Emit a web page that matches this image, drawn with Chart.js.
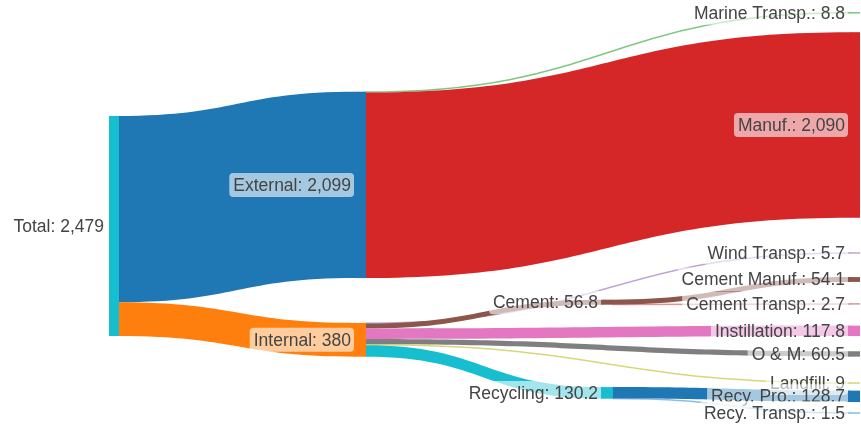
<!DOCTYPE html>
<html><head><meta charset="utf-8">
<script src="https://cdn.jsdelivr.net/npm/chart.js@4.4.0/dist/chart.umd.min.js"></script>
<style>html,body{margin:0;padding:0;background:#fff;}#wrap{width:861px;height:428px;position:relative;}</style>
</head><body><div id="wrap"><canvas id="c"></canvas></div>
<script>
// ---- data ----
const nodeLabels = ['Total','External','Internal','Marine Transp.','Manuf.','Wind Transp.','Cement',
  'Cement Manuf.','Cement Transp.','Instillation','O & M','Landfill','Recycling','Recy. Pro.','Recy. Transp.'];
const linkSource = [0, 0, 1, 1, 2, 2, 2, 2, 2, 2, 6, 6, 12, 12];
const linkTarget = [1, 2, 3, 4, 5, 6, 9, 10, 11, 12, 7, 8, 13, 14];
const linkValue  = [2099, 380, 8.8, 2090, 5.7, 56.8, 117.8, 60.5, 9, 130.2, 54.1, 2.7, 128.7, 1.5];

// ---- layout & style (not data) ----
const nodeColumn = [0, 1, 1, 3, 3, 3, 2, 3, 3, 3, 3, 3, 2, 3, 3];
const nodeCenterFrac = [0.528, 0.432, 0.794, 0.030, 0.292, 0.591, 0.706, 0.653, 0.710, 0.773, 0.827, 0.895, 0.918, 0.926, 0.965];
const nodeColors = ['#17becf','#1f77b4','#ff7f0e','#2ca02c','#d62728','#9467bd','#8c564b',
  '#8c564b','#b5574f','#e377c2','#7f7f7f','#bcbd22','#17becf','#1f77b4','#3d8fd0'];
const layoutCfg = { xMin: -0.4413, xMax: 3.0445, yMax: 4820, nodeWidth: 0.0405 };

const fmt = new Intl.NumberFormat('en-US', { maximumFractionDigits: 1 });

function computeNodes() {
  const n = nodeLabels.length;
  const inSum = new Array(n).fill(0), outSum = new Array(n).fill(0);
  linkValue.forEach((v, i) => { outSum[linkSource[i]] += v; inSum[linkTarget[i]] += v; });
  return nodeLabels.map((lab, i) => {
    const value = Math.max(inSum[i], outSum[i]);
    const center = nodeCenterFrac[i] * layoutCfg.yMax;
    return { label: lab, value, col: nodeColumn[i], top: center - value / 2, center, color: nodeColors[i] };
  });
}

function hexA(hex, a) {
  const r = parseInt(hex.slice(1,3),16), g = parseInt(hex.slice(3,5),16), b = parseInt(hex.slice(5,7),16);
  return `rgba(${r},${g},${b},${a})`;
}

const sankeyPlugin = {
  id: 'sankeyDraw',
  afterDatasetsDraw(chart) {
    const ctx = chart.ctx, xs = chart.scales.x, ys = chart.scales.y;
    const nodes = computeNodes();
    const links = linkValue.map((v, i) => ({ s: linkSource[i], t: linkTarget[i], v, i }));
    nodes.forEach((nd, i) => {
      let o = 0;
      links.filter(l => l.s === i).sort((a, b) => nodes[a.t].center - nodes[b.t].center)
        .forEach(l => { l.y0 = nd.top + o; o += l.v; });
      let q = 0;
      links.filter(l => l.t === i).sort((a, b) => nodes[a.s].center - nodes[b.s].center)
        .forEach(l => { l.y1 = nd.top + q; q += l.v; });
    });
    ctx.save();
    // links
    links.forEach(l => {
      const x0 = xs.getPixelForValue(nodes[l.s].col + layoutCfg.nodeWidth);
      const x1 = xs.getPixelForValue(nodes[l.t].col);
      const xm = (x0 + x1) / 2;
      const a0 = ys.getPixelForValue(l.y0), b0 = ys.getPixelForValue(l.y0 + l.v);
      const a1 = ys.getPixelForValue(l.y1), b1 = ys.getPixelForValue(l.y1 + l.v);
      const col = nodeColors[l.t];
      const h = b0 - a0;
      if (h < 1.5) {
        const c0 = (a0 + b0) / 2, c1 = (a1 + b1) / 2;
        ctx.beginPath();
        ctx.moveTo(x0 - 0.5, c0);
        ctx.bezierCurveTo(xm, c0, xm, c1, x1 + 0.5, c1);
        ctx.strokeStyle = hexA(col, 0.6);
        ctx.lineWidth = 1.5;
        ctx.stroke();
      } else {
        ctx.beginPath();
        ctx.moveTo(x0 - 0.5, a0);
        ctx.bezierCurveTo(xm, a0, xm, a1, x1 + 0.5, a1);
        ctx.lineTo(x1 + 0.5, b1);
        ctx.bezierCurveTo(xm, b1, xm, b0, x0 - 0.5, b0);
        ctx.closePath();
        ctx.fillStyle = col;
        ctx.fill();
      }
    });
    // nodes
    nodes.forEach(nd => {
      const xl = xs.getPixelForValue(nd.col), xr = xs.getPixelForValue(nd.col + layoutCfg.nodeWidth);
      const yt = ys.getPixelForValue(nd.top), yb = ys.getPixelForValue(nd.top + nd.value);
      ctx.fillStyle = nd.color;
      if (yb - yt < 1.5) {
        ctx.globalAlpha = 0.6;
        ctx.fillRect(xl, (yt + yb) / 2 - 0.75, xr - xl, 1.5);
        ctx.globalAlpha = 1;
      } else ctx.fillRect(xl, yt, xr - xl, yb - yt);
    });
    // labels
    ctx.font = '17.5px "Liberation Sans", Arial, sans-serif';
    ctx.textBaseline = 'middle';
    ctx.textAlign = 'right';
    nodes.forEach(nd => {
      const txt = nd.label + ': ' + fmt.format(nd.value);
      const w = ctx.measureText(txt).width;
      const xr = xs.getPixelForValue(nd.col) - 5;
      const yc = ys.getPixelForValue(nd.center);
      ctx.fillStyle = 'rgba(255,255,255,0.6)';
      ctx.beginPath();
      if (ctx.roundRect) ctx.roundRect(xr - w - 4, yc - 12, w + 7, 24, 4); else ctx.rect(xr - w - 4, yc - 12, w + 7, 24);
      ctx.fill();
      ctx.fillStyle = '#444';
      ctx.fillText(txt, xr, yc + 1);
    });
    ctx.restore();
  }
};

new Chart(document.getElementById('c'), {
  type: 'scatter',
  data: { datasets: [{ data: [], showLine: false }] },
  options: {
    responsive: true, maintainAspectRatio: false, animation: false,
    layout: { padding: 0 },
    scales: {
      x: { type: 'linear', min: layoutCfg.xMin, max: layoutCfg.xMax, display: false },
      y: { type: 'linear', min: 0, max: layoutCfg.yMax, reverse: true, display: false }
    },
    plugins: { legend: { display: false }, tooltip: { enabled: false } }
  },
  plugins: [sankeyPlugin]
});
</script></body></html>
